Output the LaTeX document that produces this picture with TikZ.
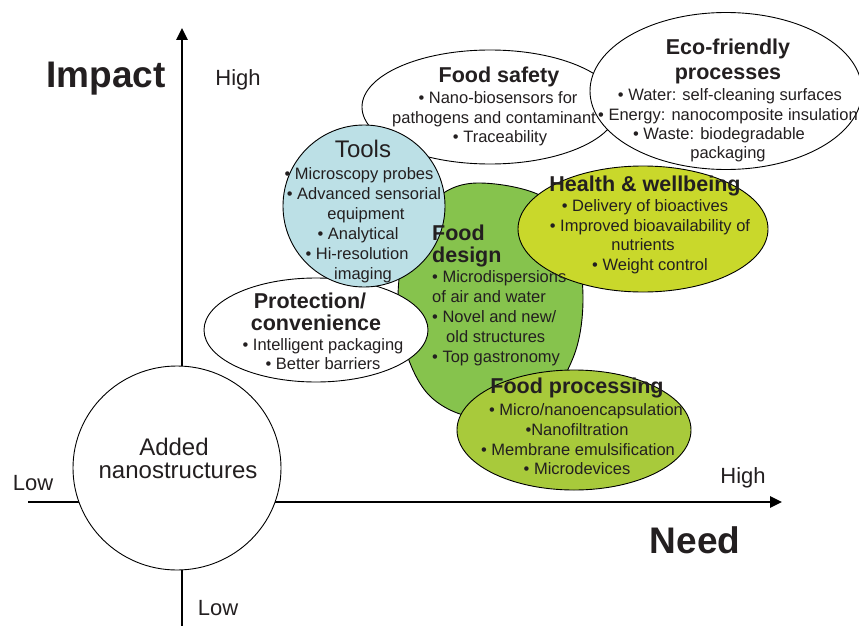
\documentclass[tikz,border=0pt]{standalone}
\usepackage{fontspec}
\setmainfont{Liberation Sans}
\usetikzlibrary{shapes.geometric,arrows.meta}
\definecolor{toolsblue}{HTML}{BCE0E6}
\definecolor{designgreen}{HTML}{86C34D}
\definecolor{healthyellow}{HTML}{C9D82B}
\definecolor{procgreen}{HTML}{A8CA3B}
\definecolor{txt}{HTML}{231F20}
\begin{document}
\begin{tikzpicture}[x=1pt,y=-1pt,
  oval/.style={draw=black, line width=0.9pt, ellipse, inner sep=0pt},
  bodytxt/.style={anchor=base, inner sep=0pt, text=txt, font=\fontsize{16.5}{20}\selectfont},
  headtxt/.style={anchor=base, inner sep=0pt, text=txt, font=\fontsize{21.5}{24}\selectfont\bfseries},
  bigtxt/.style={anchor=base, inner sep=0pt, text=txt, font=\fontsize{37}{40}\selectfont\bfseries},
  axtxt/.style={anchor=base, inner sep=0pt, text=txt, font=\fontsize{22}{24}\selectfont},
  axis/.style={line width=2.6pt, black, -{Triangle[length=12pt,width=11pt]}}]
\useasboundingbox (0,0) rectangle (859,626);
% axes
\coordinate (vbot) at (182,626);
\coordinate (vtop) at (182,28);
\coordinate (hleft) at (28,502);
\coordinate (hright) at (782,502);
\draw[axis] (vbot) -- (vtop);
\draw[axis] (hleft) -- (hright);
% shapes
\node[oval, fill=white, minimum width=256pt, minimum height=114pt] (safety) at (490,107) {};
\node[oval, fill=white, minimum width=272pt, minimum height=157pt] (eco) at (726,91) {};
\draw[line width=0.9pt, fill=designgreen] plot[smooth cycle, tension=0.6] coordinates {(480,183) (545,198) (574,243) (583,300) (573,358) (540,405) (480,418) (432,398) (406,352) (398,296) (408,240) (438,197)};
\coordinate (design) at (490,300);
\node[oval, fill=healthyellow, minimum width=250pt, minimum height=126pt] (health) at (643,229) {};
\node[oval, fill=white, minimum width=224pt, minimum height=104pt] (protect) at (316,330) {};
\node[oval, fill=toolsblue, minimum width=162pt, minimum height=162pt] (tools) at (364,206) {};
\node[oval, fill=white, minimum width=208pt, minimum height=204pt] (added) at (177,468) {};
% texts
\node[headtxt] (fs0) at (499,82) {Food safety};
\node[bodytxt] (fs1) at (498,103) {• Nano-biosensors for};
\node[bodytxt] (fs2) at (494,123) {pathogens and contaminant};
\node[bodytxt] (fs3) at (500,142) {• Traceability};
\node[headtxt] (ec0) at (728,55) {Eco-friendly};
\node[headtxt] (ec1) at (728,79) {processes};
\node[bodytxt] (ec2) at (730,100) {• Water: self-cleaning surfaces};
\node[bodytxt, anchor=base west] (ec3) at (598,120) {• Energy: nanocomposite insulation};
\node[bodytxt] (ec4) at (719,139) {• Waste: biodegradable};
\node[bodytxt] (ec5) at (728,158) {packaging};
\node[anchor=base, inner sep=0pt, text=txt, font=\fontsize{24}{26}\selectfont] (tl0) at (363,157) {Tools};
\node[bodytxt] (tl1) at (359,179) {• Microscopy probes};
\node[bodytxt] (tl2) at (364,199) {• Advanced sensorial};
\node[bodytxt] (tl3) at (366,219) {equipment};
\node[bodytxt] (tl4) at (358,239) {• Analytical};
\node[bodytxt] (tl5) at (357,259) {• Hi-resolution};
\node[bodytxt] (tl6) at (363,279) {imaging};
\node[headtxt, anchor=base west] (fd0) at (432,240) {Food};
\node[headtxt, anchor=base west] (fd1) at (432,262) {design};
\node[bodytxt, anchor=base west] (fd2) at (432,282) {• Microdispersions};
\node[bodytxt, anchor=base west] (fd3) at (432,302) {of air and water};
\node[bodytxt, anchor=base west] (fd4) at (432,322) {• Novel and new/};
\node[bodytxt, anchor=base west] (fd5) at (446,342) {old structures};
\node[bodytxt, anchor=base west] (fd6) at (432,362) {• Top gastronomy};
\node[headtxt] (hw0) at (645,191) {Health \& wellbeing};
\node[bodytxt] (hw1) at (645,211) {• Delivery of bioactives};
\node[bodytxt] (hw2) at (650,231) {• Improved bioavailability of};
\node[bodytxt] (hw3) at (643,250) {nutrients};
\node[bodytxt] (hw4) at (650,270) {• Weight control};
\node[headtxt] (pc0) at (310,308) {Protection/};
\node[headtxt] (pc1) at (316,330) {convenience};
\node[bodytxt] (pc2) at (323,350) {• Intelligent packaging};
\node[bodytxt] (pc3) at (323,369) {• Better barriers};
\node[anchor=base, inner sep=0pt, text=txt, font=\fontsize{24}{26}\selectfont] (ad0) at (174,455) {Added};
\node[anchor=base, inner sep=0pt, text=txt, font=\fontsize{24}{26}\selectfont] (ad1) at (178,478) {nanostructures};
% food processing on top
\node[oval, fill=procgreen, minimum width=234pt, minimum height=120pt] (proc) at (574,430) {};
\node[headtxt] (fp0) at (577,393) {Food processing};
\node[bodytxt] (fp1) at (586,415) {• Micro/nanoencapsulation};
\node[bodytxt] (fp2) at (577,435) {•Nanofiltration};
\node[bodytxt] (fp3) at (578,455) {• Membrane emulsification};
\node[bodytxt] (fp4) at (577,474) {• Microdevices};
% axis labels
\node[bigtxt] (impact) at (106,87) {Impact};
\node[bigtxt] (need) at (695,553) {Need};
\node[axtxt] (hightop) at (238,85) {High};
\node[axtxt] (lowleft) at (33,490) {Low};
\node[axtxt] (highright) at (743,483) {High};
\node[axtxt] (lowbottom) at (218,615) {Low};
\end{tikzpicture}
\end{document}
